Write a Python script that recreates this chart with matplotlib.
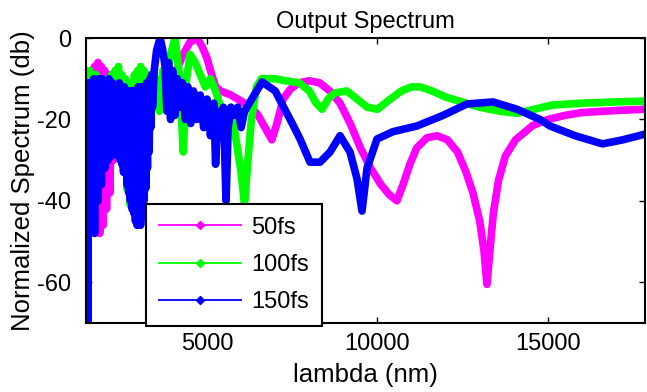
import numpy as np
import matplotlib
matplotlib.use('Agg')
import matplotlib.pyplot as plt
from matplotlib.lines import Line2D

plt.rcParams['font.family'] = ['Liberation Sans', 'DejaVu Sans']
plt.rcParams['axes.unicode_minus'] = False

# wavelength (nm) / normalized spectrum (dB)
lam_50 = [1480, 1530, 1580, 1640, 1700, 1750, 1800, 1850, 1900, 1950, 2000, 2050,
          2100, 2150, 2200, 2250, 2300, 2350, 2400, 2500, 2600, 2700, 2800, 2900,
          3000, 3100, 3200, 3300, 3400, 3500, 3600, 3700, 3800, 3900, 4000, 4150,
          4300, 4500, 4700, 4850, 5000, 5100, 5250, 5400, 5550, 5700, 5900, 6100,
          6300, 6500, 6700, 6900, 7050, 7230, 7450, 7700, 8000, 8300, 8600, 8900,
          9200, 9500, 9800, 10100, 10350, 10570, 10750, 10950, 11150, 11450, 11750,
          12050, 12350, 12600, 12800, 13000, 13120, 13212, 13300, 13400, 13550,
          13750, 14050, 14550, 15000, 15500, 16000, 17000, 17850]
spec_50 = [-9, -40, -8, -30, -7, -44, -6, -48, -7, -46, -8, -42,
           -9, -38, -10, -30, -11, -25, -10, -20, -12, -18, -11, -16,
           -13, -15, -12, -13, -16, -13, -17, -12, -14, -10, -11, -7,
           -4, -1, 0, -2, -5, -8, -12, -13, -13.5, -14, -15, -16,
           -17, -19, -22, -25, -21, -15, -12.5, -11, -10.5, -11, -13, -16,
           -21, -27, -32, -36, -38.5, -40, -36, -31, -27, -24.5, -24,
           -25, -28, -33, -38, -45, -52, -60.5, -52, -43, -35,
           -29, -25, -21.5, -20, -19, -18.3, -17.8, -17.5]

lam_100 = [1480, 1520, 1560, 1610, 1650, 1700, 1740, 1790, 1830, 1880, 1920, 1970,
           2010, 2060, 2100, 2150, 2200, 2250, 2300, 2350, 2400, 2450, 2500, 2550,
           2600, 2650, 2700, 2740, 2780, 2830, 2870, 2920, 2960, 3010, 3050, 3100,
           3150, 3200, 3250, 3300, 3400, 3500, 3600, 3700, 3800, 3900, 4062, 4200,
           4300, 4400, 4500, 4650, 4800, 4950, 5100, 5250, 5400, 5550, 5700, 5850,
           6000, 6100, 6200, 6300, 6450, 6600, 6800, 7000, 7300, 7700, 8000, 8200,
           8373, 8550, 8750, 9100, 9400, 9700, 10000, 10300, 10700, 11000, 11250,
           11600, 12000, 12600, 13000, 13600, 14100, 14600, 15100, 16000, 17000, 17850]
spec_100 = [-8, -25, -8, -28, -9, -31, -9, -33, -10, -32, -11, -30,
            -11, -27, -10, -24, -9, -20, -8, -18, -7, -22, -9, -30,
            -10, -37, -11, -41, -12, -33, -9, -24, -8, -18, -7, -15,
            -8, -18, -9, -13, -16, -10, -18, -8, -12, -5, 0, -10,
            -28, -10, -4, -6, -9, -12, -10, -13, -17, -20, -17, -25,
            -33, -41, -30, -20, -12, -10, -10, -10, -10.5, -11, -13, -16,
            -17.5, -15, -13.5, -13, -15, -17, -17.5, -15.5, -13, -12, -12,
            -13, -14.5, -16, -17, -18, -18.5, -17.5, -16.5, -16, -15.7, -15.5]

lam_150 = [1480, 1500, 1525, 1550, 1575, 1600, 1625, 1650, 1675, 1700,
           1725, 1750, 1775, 1800, 1825, 1850, 1875, 1900, 1925, 1950,
           1975, 2000, 2025, 2050, 2075, 2100, 2125, 2150, 2175, 2200,
           2225, 2250, 2275, 2300, 2325, 2350, 2375, 2400, 2425, 2450,
           2475, 2500, 2525, 2550, 2575, 2600, 2625, 2650, 2675, 2700,
           2725, 2750, 2775, 2800, 2825, 2850, 2875, 2900, 2925, 2950,
           2975, 3000, 3025, 3050, 3075, 3100, 3125, 3150, 3175, 3200,
           3225, 3250, 3275, 3300, 3325, 3350, 3375, 3400, 3450, 3520,
           3622, 3700, 3770, 3820, 3870, 3930, 3990, 4060, 4130, 4200, 4280, 4360,
           4440, 4520, 4600, 4700, 4800, 4900, 5000, 5100, 5200, 5250, 5320, 5400,
           5480, 5557, 5620, 5700, 5800, 5900, 6000, 6100, 6261, 6613, 7000, 7229,
           7500, 7728, 8021, 8314, 8608, 8901, 9194, 9400, 9546, 9693, 9986, 10456,
           11159, 11922, 12626, 13389, 14093, 14768, 15060, 15800, 16600, 17200, 17850]
spec_150 = [-11, -70, -12, -45, -11, -38, -12, -42, -10, -48,
            -11, -35, -12, -40, -10, -33, -11, -36, -10, -30,
            -11, -32, -12, -28, -11, -30, -10, -27, -12, -29,
            -11, -27, -12, -28, -13, -26, -12, -29, -11, -30,
            -12, -31, -13, -33, -12, -32, -13, -36, -13, -38,
            -14, -40, -13, -42, -13, -43, -14, -45, -13, -46,
            -12, -45, -13, -46, -12, -44, -12, -40, -12, -37,
            -11, -32, -11, -28, -10, -22, -9, -17, -8, -3,
            0, -3, -7, -18, -6, -20, -8, -19, -10, -17, -11, -20,
            -12, -21, -13, -20, -14, -22, -15, -24, -16, -31, -18, -20,
            -17, -40, -22, -17, -19, -17, -22, -18, -15.7, -10.8, -13, -16.7,
            -21, -24.8, -30.5, -30.5, -28, -24, -28, -34.6, -42.5, -32, -24.8, -23,
            -21.6, -19, -16.2, -15.7, -17.5, -20, -21.6, -24, -26, -25, -23.6]

labels = ['50fs', '100fs', '150fs']
colors = ['#ff00ff', '#00ff00', '#0000ff']

fig = plt.figure(figsize=(6.47, 3.92), dpi=100)
ax = fig.add_axes([0.133, 0.176, 0.864, 0.727])

for lam, spec, c in zip([lam_50, lam_100, lam_150], [spec_50, spec_100, spec_150], colors):
  ax.plot(lam, spec, color=c, lw=5.5, solid_joinstyle='round', solid_capstyle='round')

ax.set_xlim(1450, 17850)
ax.set_ylim(-70, 0)
ax.set_xticks([5000, 10000, 15000])
ax.set_yticks([-60, -40, -20, 0])
ax.tick_params(direction='in', top=True, right=True, length=4, width=1,
               labelsize=17, colors='black')
ax.tick_params(axis='x', pad=7)
ax.tick_params(axis='y', pad=10.5)
for s in ax.spines.values():
  s.set_linewidth(1.5)

ax.set_title('Output Spectrum', fontsize=17, pad=7.5)
ax.set_xlabel('lambda (nm)', fontsize=18.5, labelpad=6)
ax.set_ylabel('Normalized Spectrum (db)', fontsize=18.5, labelpad=2)

handles = [Line2D([], [], color=c, lw=1.3, marker='D', markersize=4) for c in colors]
leg = ax.legend(handles, labels, loc='lower left', bbox_to_anchor=(0.107, -0.012),
                borderaxespad=0, fontsize=17, handlelength=3.5, fancybox=False,
                framealpha=1, edgecolor='black', labelspacing=0.65, handletextpad=0.4,
                borderpad=0.55)
leg.get_frame().set_linewidth(1.5)

plt.savefig('out.png', dpi=100)
